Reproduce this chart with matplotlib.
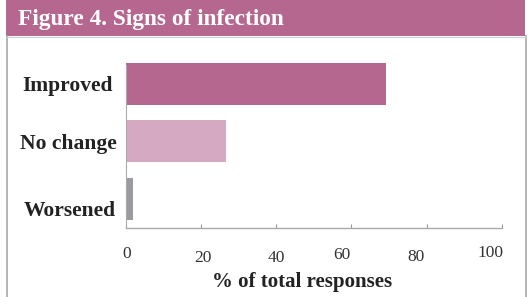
import matplotlib
matplotlib.use("Agg")
import matplotlib.pyplot as plt
from matplotlib.patches import Rectangle
from matplotlib.lines import Line2D
from matplotlib.transforms import ScaledTranslation

title = "Figure 4. Signs of infection"
categories = ["Improved", "No change", "Worsened"]
values = [69.2, 26.7, 1.9]
colors = ["#B5678F", "#D6A9C3", "#9B9A9F"]
xticks = [0, 20, 40, 60, 80, 100]
xlabel = "% of total responses"

W, H = 528, 297
DPI = 100
fig = plt.figure(figsize=(W / DPI, H / DPI), dpi=DPI)
fig.patch.set_facecolor("white")
serif = ["Liberation Serif", "DejaVu Serif"]

# header band
fig.add_artist(Rectangle((6 / W, 1 - 36 / H), (525 - 6) / W, 36 / H,
                         transform=fig.transFigure, facecolor="#B5678F",
                         edgecolor="none", zorder=0))
fig.text(18 / W, 1 - 19 / H, title, color="white", fontsize=16.8,
         fontweight="bold", family=serif, ha="left", va="center")
# frame lines
for x in (6.5, 525.5):
    fig.add_artist(Line2D([x / W, x / W], [0, 1 - 36 / H], transform=fig.transFigure,
                          color="#A8A8A8", lw=1.2))
fig.add_artist(Line2D([6.5 / W, 525.5 / W], [1 - 36.5 / H, 1 - 36.5 / H],
                      transform=fig.transFigure, color="#D0D0D0", lw=0.8))

# axes: x 125.7 -> 501.7, y 55 -> 228
ax = fig.add_axes([125.7 / W, 1 - 228 / H, (501.7 - 125.7) / W, (228 - 55) / H])
pos = list(range(len(categories)))
ax.barh(pos, values, height=0.73, color=colors)
ax.set_xlim(0, 100)
ax.set_ylim(2.513, -0.5)
ax.set_yticks(pos)
ax.set_yticklabels(categories, fontsize=15.5, fontweight="bold", family=serif,
                   color="#222222")
ax.tick_params(axis="y", length=0, pad=9)
ax.set_xticks(xticks)
ax.set_xticklabels([str(t) for t in xticks], fontsize=12.5, family=serif, color="#333333")
ax.tick_params(axis="x", direction="in", length=3, color="#999999", pad=13)
for s in ("top", "right"):
    ax.spines[s].set_visible(False)
ax.spines["left"].set_color("#AAAAAA")
ax.spines["bottom"].set_color("#AAAAAA")
ax.spines["left"].set_linewidth(0.8)
ax.spines["bottom"].set_linewidth(1.0)
ax.spines["left"].set_bounds(2.513, -0.32)
ax.set_xlabel(xlabel, fontsize=15, fontweight="bold", family=serif,
              color="#222222")
ax.xaxis.set_label_coords(0.470, -0.252)

# per-label nudges (pixels; +x right, +y down) to mimic the original typesetting
xtick_nudge = [(0.5, 0), (1.9, 4), (0.6, 3.5), (-9.3, 1), (-10.3, 3), (-11.4, -1.5)]
ytick_nudge = [(0, 0), (4, 0), (3, 10)]
for lab, (dx, dy) in zip(ax.get_xticklabels(), xtick_nudge):
    lab.set_transform(lab.get_transform() +
                      ScaledTranslation(dx / DPI, -dy / DPI, fig.dpi_scale_trans))
for lab, (dx, dy) in zip(ax.get_yticklabels(), ytick_nudge):
    lab.set_transform(lab.get_transform() +
                      ScaledTranslation(dx / DPI, -dy / DPI, fig.dpi_scale_trans))

fig.savefig("out.png", dpi=DPI, facecolor="white")
